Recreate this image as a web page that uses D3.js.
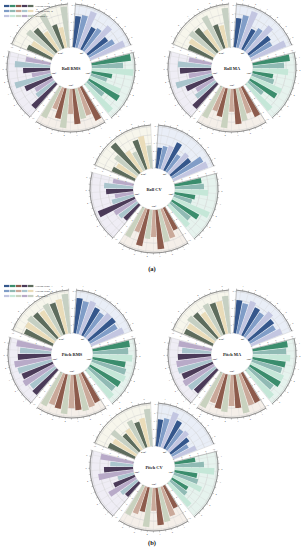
<!DOCTYPE html>
<html><head><meta charset="utf-8">
<script src="https://cdn.jsdelivr.net/npm/d3@7"></script>
<style>html,body{margin:0;padding:0;background:#fff;} svg{display:block;}</style>
</head><body>
<svg id="c" width="304" height="550"></svg>
<script>
// ---------- data ----------
const seriesNames = ["Cutting Scope A", "Cutting Scope B", "Waypoint C"];
const sectorLabels = ["90°", "120°", "150°", "180°", "210°"];
const chartTitles = ["Roll RMS", "Roll MA", "Roll CV", "Pitch RMS", "Pitch MA", "Pitch CV"];
const panelLabels = ["(a)", "(b)"];
const valueTicks = [0, 2, 4, 6, 8, 10];
const barLabels = ["1","2","3","4","5","6","7","8","9"];

// each chart: 5 sectors x 9 bars (values 0-10)
const rollRMS = [
  [7.5, 8.0, 9.5, 6.0, 6.5, 8.5, 6.0, 7.0, 9.0],
  [9.5, 7.5, 10.0, 5.0, 4.0, 8.0, 8.5, 5.0, 9.0],
  [9.0, 7.0, 7.5, 8.5, 6.0, 9.5, 7.5, 5.5, 8.5],
  [8.0, 5.5, 5.0, 7.0, 9.0, 4.5, 6.5, 8.5, 6.0],
  [6.5, 6.0, 8.5, 7.5, 5.5, 9.5, 6.0, 5.0, 9.8]
];
const rollMA = [
  [7.0, 8.0, 9.5, 5.5, 6.5, 8.5, 6.5, 6.0, 9.0],
  [9.0, 7.5, 8.5, 5.0, 5.5, 8.0, 7.5, 4.5, 8.5],
  [8.0, 6.5, 8.0, 8.5, 5.5, 9.5, 7.0, 6.0, 8.5],
  [8.0, 6.0, 5.0, 7.0, 9.0, 5.5, 7.5, 8.0, 5.5],
  [6.5, 7.0, 8.0, 7.5, 6.0, 9.0, 6.0, 5.5, 9.5]
];
const rollCV = [
  [5.0, 5.5, 6.0, 7.5, 5.0, 6.5, 6.0, 8.5, 9.0],
  [6.5, 7.0, 8.0, 5.0, 4.5, 9.5, 7.5, 6.0, 7.0],
  [6.0, 7.5, 8.0, 9.5, 6.5, 7.0, 9.0, 6.0, 8.0],
  [5.0, 5.5, 6.0, 9.5, 5.5, 4.5, 6.5, 7.0, 5.0],
  [6.0, 5.5, 7.0, 9.5, 6.0, 5.0, 7.5, 8.0, 5.5]
];
const pitchRMS = [
  [8.5, 8.0, 8.5, 7.5, 7.0, 8.0, 8.0, 7.5, 8.5],
  [9.0, 8.5, 9.5, 8.0, 8.5, 9.0, 8.5, 8.0, 9.0],
  [8.0, 8.5, 9.0, 8.5, 8.0, 9.5, 8.5, 8.0, 9.0],
  [8.0, 7.5, 8.5, 8.0, 8.5, 9.0, 8.0, 7.5, 8.5],
  [7.5, 8.0, 8.5, 8.0, 7.5, 8.5, 8.0, 8.5, 9.5]
];
const pitchMA = [
  [8.0, 7.5, 8.5, 7.5, 7.0, 8.5, 7.5, 7.0, 8.0],
  [8.5, 8.0, 9.0, 8.0, 7.5, 8.5, 8.5, 7.5, 9.0],
  [8.0, 8.0, 9.5, 8.0, 7.5, 9.0, 8.5, 7.5, 9.5],
  [7.5, 8.0, 8.5, 8.0, 8.5, 8.5, 8.0, 7.0, 8.0],
  [7.5, 7.5, 8.5, 8.0, 7.0, 8.5, 8.0, 8.0, 9.0]
];
const pitchCV = [
  [6.5, 7.0, 9.0, 7.5, 6.0, 6.5, 5.5, 4.5, 6.0],
  [5.0, 7.0, 9.5, 5.5, 6.0, 7.5, 4.5, 5.0, 7.5],
  [6.0, 7.5, 8.5, 9.0, 5.5, 9.5, 6.0, 7.0, 8.0],
  [4.5, 5.0, 7.5, 5.5, 4.0, 8.5, 7.0, 5.5, 8.0],
  [7.0, 6.5, 8.0, 5.5, 6.0, 7.5, 6.5, 7.0, 9.0]
];
const chartData = [rollRMS, rollMA, rollCV, pitchRMS, pitchMA, pitchCV];

// ---------- styles ----------
const familyColors = [
  ["#35578c", "#809dc7", "#c3c6e1"],
  ["#3b8d6d", "#90bab4", "#c5e7d8"],
  ["#8d5b4c", "#caa99a", "#c9d2bf"],
  ["#4b3b59", "#aac5cd", "#b8aac8"],
  ["#5d6c5d", "#eadcb9", "#c6d0c3"]
];
const sectorFills = ["#e9eef7", "#e6f3ee", "#f5efe9", "#efedf5", "#f7f6ec"];
const chartPos = [[71, 68], [232, 68], [154, 189], [72, 354], [232, 354], [154, 467]];
const legendPos = [[4, 6], [4, 286]];
const panelPos = [[152, 268], [152, 542]];
const FONT = "Liberation Serif, serif";
const r0 = 21, R = 64;
const deg = Math.PI / 180;

const svg = d3.select("#c");

function drawChart(cx, cy, title, data) {
  const g = svg.append("g").attr("transform", `translate(${cx},${cy})`);
  const rScale = d3.scaleLinear().domain([0, 10]).range([r0, R - 1.5]);
  const arc = d3.arc();
  data.forEach((vals, k) => {
    const a0 = (4 + 72 * k) * deg, a1 = a0 + 65 * deg;
    const band = d3.scaleBand().domain(d3.range(vals.length)).range([a0, a1])
      .paddingInner(0.12).paddingOuter(0.1);
    const sg = g.append("g");
    sg.append("path")
      .attr("d", arc({innerRadius: r0, outerRadius: R, startAngle: a0, endAngle: a1}))
      .attr("fill", sectorFills[k]).attr("stroke", "#c4c4c4").attr("stroke-width", 0.4);
    valueTicks.slice(1).forEach(t => {
      sg.append("path")
        .attr("d", arc({innerRadius: rScale(t), outerRadius: rScale(t), startAngle: a0, endAngle: a1}))
        .attr("fill", "none").attr("stroke", "#d0d0d0").attr("stroke-width", 0.3);
    });
    vals.forEach((v, i) => {
      const a = band(i) + band.bandwidth() / 2;
      sg.append("line")
        .attr("x1", r0 * Math.sin(a)).attr("y1", -r0 * Math.cos(a))
        .attr("x2", R * Math.sin(a)).attr("y2", -R * Math.cos(a))
        .attr("stroke", "#d4d4d4").attr("stroke-width", 0.3);
    });
    sg.selectAll("path.bar").data(vals).join("path").attr("class", "bar")
      .attr("d", (v, i) => arc({innerRadius: r0, outerRadius: rScale(v),
        startAngle: band(i), endAngle: band(i) + band.bandwidth()}))
      .attr("fill", (v, i) => familyColors[k][i % 3]);
    sg.append("path")
      .attr("d", arc({innerRadius: R, outerRadius: R, startAngle: a0, endAngle: a1}))
      .attr("fill", "none").attr("stroke", "#666").attr("stroke-width", 0.4);
    const outerTicks = d3.range(0, 13).map(j => a0 + (a1 - a0) * j / 12);
    outerTicks.forEach((a, j) => {
      sg.append("line")
        .attr("x1", R * Math.sin(a)).attr("y1", -R * Math.cos(a))
        .attr("x2", (R + 1.6) * Math.sin(a)).attr("y2", -(R + 1.6) * Math.cos(a))
        .attr("stroke", "#666").attr("stroke-width", 0.35);
      if (j % 2 === 1 && (j - 1) / 2 < barLabels.length) {
        sg.append("text")
          .attr("x", (R + 4) * Math.sin(a)).attr("y", -(R + 4) * Math.cos(a))
          .attr("text-anchor", "middle").attr("dominant-baseline", "central")
          .attr("font-family", FONT).attr("font-size", 2.4).attr("fill", "#444")
          .text(barLabels[(j - 1) / 2]);
      }
    });
    sg.append("line")
      .attr("x1", r0 * Math.sin(a0)).attr("y1", -r0 * Math.cos(a0))
      .attr("x2", R * Math.sin(a0)).attr("y2", -R * Math.cos(a0))
      .attr("stroke", "#777").attr("stroke-width", 0.35);
    valueTicks.forEach(t => {
      const r = rScale(t);
      const px = r * Math.sin(a0), py = -r * Math.cos(a0);
      const nx = -Math.cos(a0), ny = -Math.sin(a0);
      sg.append("line").attr("x1", px).attr("y1", py)
        .attr("x2", px + nx * 1.3).attr("y2", py + ny * 1.3)
        .attr("stroke", "#777").attr("stroke-width", 0.3);
      sg.append("text").attr("x", px + nx * 3).attr("y", py + ny * 3)
        .attr("text-anchor", "middle").attr("dominant-baseline", "central")
        .attr("font-family", FONT).attr("font-size", 2.2).attr("fill", "#555")
        .text(t);
    });
    const am = (a0 + a1) / 2;
    g.append("text")
      .attr("x", (r0 - 3) * Math.sin(am)).attr("y", -(r0 - 3) * Math.cos(am))
      .attr("text-anchor", "middle").attr("dominant-baseline", "central")
      .attr("font-family", FONT).attr("font-size", 2.6).attr("font-weight", "bold")
      .attr("fill", "#333").text(sectorLabels[k]);
  });
  g.append("text").attr("x", 0).attr("y", 0)
    .attr("text-anchor", "middle").attr("dominant-baseline", "central")
    .attr("font-family", FONT).attr("font-size", 4.4).attr("font-weight", "bold")
    .attr("fill", "#222").text(title);
}

chartData.forEach((d, i) => drawChart(chartPos[i][0], chartPos[i][1], chartTitles[i], d));

legendPos.forEach(([lx, ly]) => {
  const lg = svg.append("g").attr("transform", `translate(${lx},${ly})`);
  seriesNames.forEach((name, row) => {
    familyColors.forEach((fc, k) => {
      lg.append("rect").attr("x", k * 6).attr("y", row * 5 - 1.1)
        .attr("width", 5.4).attr("height", 2.2).attr("fill", fc[row]);
    });
    lg.append("text").attr("x", 31.5).attr("y", row * 5 + 0.1)
      .attr("dominant-baseline", "central")
      .attr("font-family", FONT).attr("font-size", 2.6).attr("fill", "#333").text(name);
  });
});

panelLabels.forEach((p, i) => {
  svg.append("text").attr("x", panelPos[i][0]).attr("y", panelPos[i][1])
    .attr("text-anchor", "middle").attr("dominant-baseline", "central")
    .attr("font-family", FONT).attr("font-size", 6.5).attr("font-weight", "bold")
    .attr("fill", "#111").text(p);
});
</script>
</body></html>
